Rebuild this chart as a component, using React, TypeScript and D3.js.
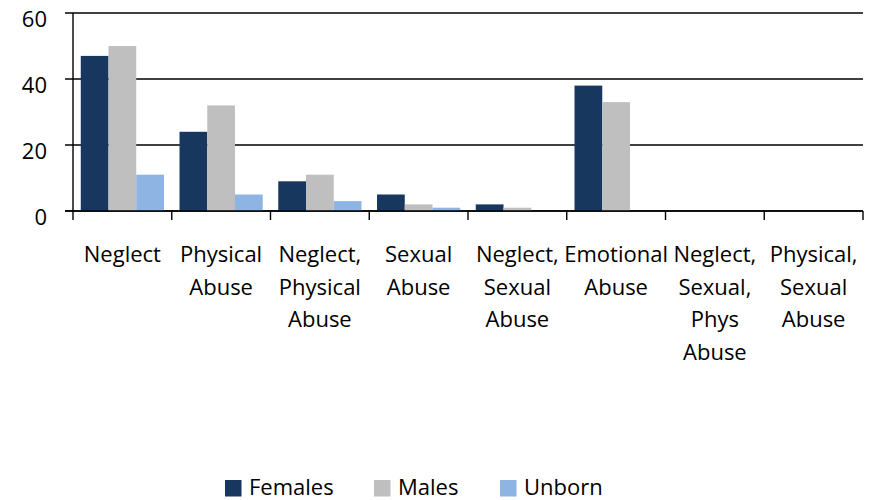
import React from "react";
import * as d3 from "d3";

const categories = [
  "Neglect",
  "Physical Abuse",
  "Neglect, Physical Abuse",
  "Sexual Abuse",
  "Neglect, Sexual Abuse",
  "Emotional Abuse",
  "Neglect, Sexual, Phys Abuse",
  "Physical, Sexual Abuse",
];
const categoryLines = [
  ["Neglect"],
  ["Physical", "Abuse"],
  ["Neglect,", "Physical", "Abuse"],
  ["Sexual", "Abuse"],
  ["Neglect,", "Sexual", "Abuse"],
  ["Emotional", "Abuse"],
  ["Neglect,", "Sexual,", "Phys", "Abuse"],
  ["Physical,", "Sexual", "Abuse"],
];
const seriesNames = ["Females", "Males", "Unborn"];
const females = [47, 24, 9, 5, 2, 38, 0, 0];
const males = [50, 32, 11, 2, 1, 33, 0, 0];
const unborn = [11, 5, 3, 1, 0, 0, 0, 0];
const seriesValues = [females, males, unborn];
const colors = ["#17375E", "#BFBFBF", "#8EB4E3"];
const yTicks = [0, 20, 40, 60];

const W = 877;
const H = 500;
const left = 73;
const right = 863;
const top = 13;
const bottom = 211;
const FONT = "'Open Sans', sans-serif";

export default function App() {
  const x = d3.scaleBand<string>().domain(categories).range([left, right]).padding(0);
  const x1 = d3
    .scaleBand<string>()
    .domain(seriesNames)
    .range([0, x.bandwidth()])
    .paddingInner(0)
    .paddingOuter(0.28);
  const y = d3.scaleLinear().domain([0, 60]).range([bottom, top]);

  const legendX = [225, 374, 500];

  return (
    <svg
      width={W}
      height={H}
      style={{ position: "absolute", left: 0, top: 0, background: "#fff" }}
      fontFamily={FONT}
    >
      {/* gridlines */}
      {yTicks.map((t) => (
        <line
          key={"g" + t}
          x1={left - 8}
          x2={right}
          y1={y(t)}
          y2={y(t)}
          stroke="#000"
          strokeWidth={1.4}
        />
      ))}
      {/* bars */}
      {categories.map((c, i) =>
        seriesNames.map((s, j) => {
          const v = seriesValues[j][i];
          if (!v) return null;
          return (
            <rect
              key={c + s}
              x={(x(c) as number) + (x1(s) as number)}
              width={x1.bandwidth()}
              y={y(v)}
              height={y(0) - y(v)}
              fill={colors[j]}
            />
          );
        })
      )}
      {/* axes */}
      <line x1={left} x2={left} y1={top} y2={bottom} stroke="#000" strokeWidth={1.4} />
      <line x1={left - 8} x2={right} y1={bottom} y2={bottom} stroke="#000" strokeWidth={1.4} />
      {categories.map((c) => (
        <line
          key={"t" + c}
          x1={x(c) as number}
          x2={x(c) as number}
          y1={bottom}
          y2={bottom + 9}
          stroke="#000"
          strokeWidth={1.4}
        />
      ))}
      <line x1={right} x2={right} y1={bottom} y2={bottom + 9} stroke="#000" strokeWidth={1.4} />
      {/* y labels */}
      {yTicks.map((t) => (
        <text
          key={"yl" + t}
          x={47}
          y={y(t) + 27 - 13}
          textAnchor="end"
          fontSize={22}
          fill="#000"
        >
          {t}
        </text>
      ))}
      {/* x labels */}
      {categories.map((c, i) => (
        <text
          key={"xl" + c}
          x={(x(c) as number) + x.bandwidth() / 2}
          y={262}
          textAnchor="middle"
          fontSize={22}
          fill="#000"
        >
          {categoryLines[i].map((l, k) => (
            <tspan key={k} x={(x(c) as number) + x.bandwidth() / 2} y={262 + k * 32.5}>
              {l}
            </tspan>
          ))}
        </text>
      ))}
      {/* legend */}
      {seriesNames.map((s, j) => (
        <g key={"lg" + s}>
          <rect x={legendX[j]} y={480} width={16.5} height={16.5} fill={colors[j]} />
          <text x={legendX[j] + 24} y={495} fontSize={22} fill="#000">
            {s}
          </text>
        </g>
      ))}
    </svg>
  );
}
